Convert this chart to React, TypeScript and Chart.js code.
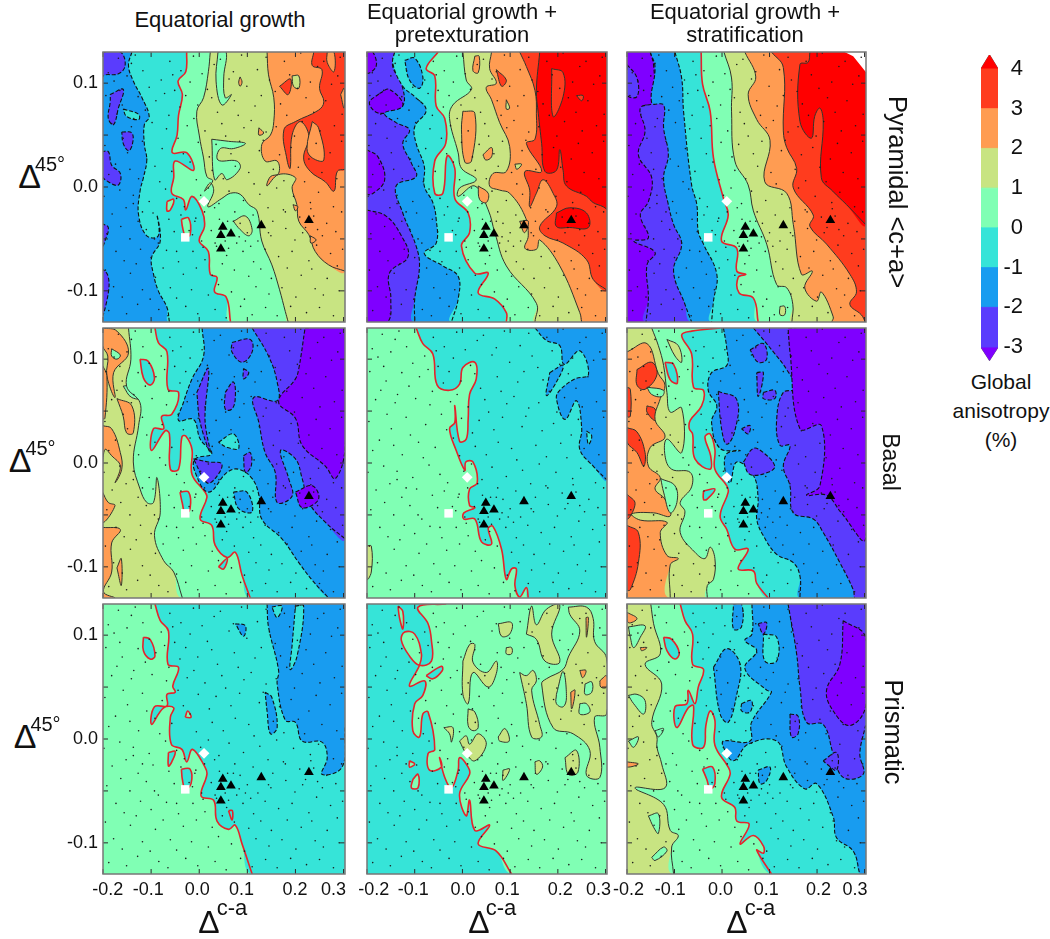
import React, { useEffect, useRef } from "react";
import { Chart, registerables } from "chart.js";
Chart.register(...registerables);

// All contour arrays: flat x,y pairs, in thousandths of the axis units
const X_RANGE = [-0.2, 0.303];
const Y_RANGE = [-0.13, 0.13];
const X_TICKS = [-0.2, -0.1, 0, 0.1, 0.2, 0.3];
const Y_TICKS = [-0.1, -0.05, 0, 0.05, 0.1];
const Y_LABELS = [-0.1, 0, 0.1];
const X_LABELS = ["-0.2", "-0.1", "0.0", "0.1", "0.2", "0.3"];
const X_LABEL_AT = [
  [-0.19, -0.106, -0.004, 0.088, 0.199, 0.279],
  [-0.186, -0.103, 0.001, 0.094, 0.205, 0.285],
  [-0.197, -0.109, -0.003, 0.093, 0.203, 0.28],
];
const BAR_LEVELS = [-3, -2, -1, 0, 1, 2, 3, 4];
const TITLES = [["Equatorial growth"], ["Equatorial growth +", "pretexturation"], ["Equatorial growth +", "stratification"]];
const ROW_NAMES = ["Pyramidal <c+a>", "Basal", "Prismatic"];
const BAR_NAME = ["Global", "anisotropy", "(%)"];
const BANDS = ["#7f00ff", "#5a3cfd", "#189cf0", "#36e4d8", "#80ffb4", "#c8e482", "#ff9c52", "#ff3c1e", "#ff0000"];

const TRI_X = [0.049, 0.045, 0.066, 0.045, 0.129, 0.228];
const TRI_Y = [-0.0385, -0.0465, -0.045, -0.0595, -0.037, -0.032];
const DIAMOND = [0.01, -0.0138];
const SQUARE = [-0.029, -0.0485];

const DOTS = [
  -168,124,-141,119,-133,127,-61,121,-38,112,-12,126,31,118,44,123,88,127,121,113,139,125,177,121,211,129,246,116,259,121,293,125,
  -189,110,-177,102,-150,107,-117,112,-104,96,-79,103,-55,108,-51,93,-19,101,6,109,17,94,62,104,71,111,99,97,146,103,158,92,188,108,204,95,231,101,275,99,288,107,
  -194,88,-165,93,-160,79,-127,87,-112,74,-90,83,-72,90,-40,77,-28,88,-3,79,26,86,38,72,73,83,81,69,116,78,129,88,169,80,182,69,222,86,238,72,263,83,297,70,
  -182,61,-171,70,-141,58,-136,66,-98,62,-68,56,-63,69,-25,59,-11,66,12,54,47,61,55,49,93,57,108,64,139,53,160,58,198,49,214,63,251,54,281,59,
  -196,40,-158,47,-149,33,-118,44,-109,27,-77,37,-44,47,-33,32,-2,43,21,29,35,41,66,32,84,44,125,35,133,45,167,31,191,38,228,27,243,42,272,33,296,44,
  -174,22,-188,12,-144,17,-126,8,-92,20,-82,5,-57,15,-19,24,-6,7,27,16,50,8,75,20,103,14,114,3,154,17,176,6,206,19,219,5,255,14,286,8,
  -165,-3,-198,-9,-137,-8,-104,-14,-70,-2,-47,-11,-31,-19,3,-8,19,-1,41,-16,62,-4,92,-13,126,-7,143,-20,161,-1,196,-9,231,-15,248,-5,279,-19,
  -181,-26,-152,-20,-127,-33,-96,-25,-63,-31,-38,-27,-9,-33,11,-24,32,-20,74,-24,85,-35,112,-27,153,-33,175,-22,209,-29,238,-28,265,-35,296,-24,
  -192,-45,-163,-38,-144,-50,-110,-41,-85,-54,-52,-43,-21,-42,5,-52,25,-42,59,-33,78,-54,100,-44,122,-52,144,-44,180,-40,199,-51,221,-39,256,-47,284,-43,
  -173,-62,-156,-71,-122,-60,-100,-68,-68,-61,-43,-72,-13,-62,12,-70,36,-57,57,-66,91,-62,113,-72,137,-60,165,-67,193,-62,228,-71,244,-56,273,-64,298,-60,
  -195,-80,-143,-83,-131,-74,-91,-87,-75,-78,-33,-84,-6,-78,27,-85,48,-74,73,-80,103,-86,128,-79,150,-88,183,-78,212,-85,234,-79,266,-88,287,-76,
  -178,-96,-160,-106,-118,-99,-102,-108,-60,-97,-47,-107,-16,-99,19,-104,40,-94,67,-101,94,-108,118,-96,145,-103,172,-97,201,-106,241,-98,258,-104,291,-100,
  -188,-119,-151,-122,-128,-113,-84,-118,-65,-124,-28,-115,-3,-122,33,-118,56,-126,86,-115,110,-123,138,-116,162,-124,190,-115,223,-121,250,-116,279,-124,
  42,-31,54,-52,71,-33,61,-59,33,-54,83,-48,-7,-30,-14,-46,8,-58,149,-47,179,-24,232,-21,246,-41,215,-44,96,-52,107,-57,-47,-62,-93,-50,-137,-16,-118,-24,
];

// Panel: row 1, column 1
const A_P1 = [-203,130,-164,130,-154,117,-168,109,-196,108,-203,106];
const A_P2 = [-185,89,-158,94,-168,76,-178,60,-189,66,-185,82];
const A_P3 = [-161,53,-140,52,-139,41,-147,35,-158,42];
const A_P4 = [-203,34,-189,34,-182,21,-164,13,-168,2,-189,5,-203,12];
const A_P5 = [-203,-35,-189,-39,-196,-52,-203,-59];
const A_P6 = [-203,-78,-190,-85,-189,-102,-203,-125];
const A_C1 = [-116,118,-102,116,-88,103,-98,104];
const A_C2 = [-158,75,-126,70,-126,65,-151,68];
const A_M1 = [-140,130,-147,117,-137,102,-119,86,-104,68,-114,60,-114,41,-109,26,-116,9,-123,-4,-126,-27,-109,-47,-85,-47,-88,-27,-81,-52,-99,-68,-95,-84,-85,-100,-67,-116,-62,-130];
const A_0 = [-26,130,-28,111,-44,102,-35,89,-43,69,-46,50,-56,33,-26,33,-12,16,-50,25,-53,9,-57,-6,-33,-12,-28,-22,-15,-9,6,-23,11,-38,0,-52,19,-62,23,-84,37,-87,32,-101,56,-106,65,-130];
const A_R1 = [-67,-14,-53,-12,-60,-22,-67,-23];
const A_R2 = [-37,-31,-22,-30,-19,-46,-29,-47,-35,-38];
const A_1 = [23,130,19,111,9,86,-5,73,0,50,9,28,16,10,28,6,11,-4,23,4,30,-4,18,-19,47,-11,65,-6,85,-7,103,-17,120,-23,130,-52,151,-75,167,-99,179,-120,185,-130];
const A_G1 = [39,130,35,102,47,79,67,89,54,86,51,106,56,130];
const A_G2 = [26,46,61,44,96,42,71,37,44,37,39,26,78,25,85,18,58,7,47,13,32,7];
const A_Y1 = [71,-33,96,-28,110,-41,103,-47,85,-41];
const A_2 = [141,130,144,108,155,86,155,63,148,50,130,41,137,25,162,25,165,13,148,10,141,1,165,12,200,9,193,-1,203,-17,207,-33,228,-46,241,-62,269,-75,303,-81];
const A_O1 = [124,57,134,52,124,50];
const A_O2 = [85,106,89,101,85,97,82,101];
const A_O3 = [195,-17,205,-19,200,-23];
const A_O4 = [231,-47,243,-51,232,-54];
const A_3 = [238,130,235,117,255,113,250,95,259,82,248,74,200,63,176,55,183,25,189,18,193,50,210,63,228,49,217,28,231,15,262,5,280,-4,287,15,303,17];
const A_H1 = [235,63,248,57,259,26,235,28,224,37];
const A_H2 = [266,130,280,130,280,111,266,120];
const A_T1 = [167,97,190,104,185,89];
const A_Y2 = [193,107,207,107,207,95,196,97];
const A_S1 = [294,89,301,95,301,76];

// Panel: row 1, column 2
const B_D1 = [-201,130,-188,130,-181,116,-201,110];
const B_D2 = [-201,36,-177,29,-163,7,-187,-6,-201,-6];
const B_D3 = [-201,-22,-160,-28,-128,-47,-114,-67,-153,-83,-150,-108,-157,-130,-201,-130];
const B_D4 = [-174,90,-153,94,-125,78,-174,71,-195,81];
const B_M2 = [-142,130,-146,116,-128,100,-125,78,-163,71,-139,62,-111,55,-125,42,-107,23,-97,10,-139,1,-125,-25,-97,-57,-90,-76,-100,-108,-100,-130];
const B_M1 = [-142,130,-146,119,-125,97,-100,87,-76,74,-100,58,-97,42,-80,20,-80,1,-62,-15,-55,-31,-55,-54,-80,-64,-41,-76,-9,-86,-9,-108,-23,-130];
const B_B1 = [-121,122,-100,124,-83,106,-90,95,-111,103];
const B_0 = [-51,130,-76,114,-58,107,-55,78,-37,66,-35,42,-58,25,-58,-6,-41,-6,-32,30,-16,18,-16,-11,12,-25,15,-44,-2,-57,26,-83,54,-83,33,-102,68,-108,92,-121,92,-130];
const B_1 = [1,130,8,103,19,94,-20,79,-27,66,-9,33,-2,18,29,7,-6,-1,-9,-9,26,1,54,-22,68,-44,92,-76,155,-112,152,-130];
const B_O1 = [1,73,26,71,19,25,5,24,-2,55];
const B_O2 = [43,31,61,38,61,29,49,26];
const B_O3 = [26,126,35,126,33,110,22,112];
const B_O4 = [33,1,54,-6,50,-15,36,-12];
const B_2 = [61,130,57,114,71,100,50,96,61,84,78,62,99,39,92,15,64,13,57,1,78,-3,99,-6,131,-28,138,-47,131,-59,155,-60,162,-51,204,-76,246,-121,250,-130];
const B_Y1 = [92,84,99,76,92,75];
const B_Y2 = [110,22,124,22,114,17];
const B_O5 = [120,-33,138,-33,130,-44];
const B_R1 = [71,113,92,103,82,97];
const B_3 = [120,130,134,116,152,93,155,71,152,46,134,42,166,15,131,15,141,-3,141,-19,155,-6,169,7,190,-6,197,-19,162,-38,173,-47,211,-54,260,-70,274,-89,302,-99];
const B_4 = [162,130,155,93,159,71,166,42,173,15,197,16,204,36,211,16,218,1,260,-9,274,-15,295,-19,304,-22];
const B_R2 = [197,-25,225,-20,260,-25,264,-39,225,-39,197,-38];
const B_I1 = [187,114,211,110,211,87,190,68];
const B_I2 = [239,88,253,88,250,83];

// Panel: row 1, column 3
const C_M3 = [-151,130,-144,117,-144,82,-172,76,-162,54,-176,31,-148,9,-155,-14,-172,-27,-155,-49,-186,-52,-141,-63,-158,-75,-155,-107,-160,-130];
const C_P1 = [-200,118,-179,105,-179,87,-200,89];
const C_M2 = [-151,130,-141,115,-148,81,-123,79,-123,57,-113,31,-123,9,-113,-17,-102,-36,-85,-55,-102,-81,-78,-113,-64,-130];
const C_M1 = [-99,130,-85,105,-81,73,-64,2,-53,-17,-50,-43,-39,-55,-11,-84,-18,-110,-22,-130];
const C_0 = [-44,130,-41,99,-25,73,-18,28,3,-11,13,-27,-1,-52,31,-59,31,-81,50,-84,34,-87,36,-102,66,-107,76,-130];
const C_1 = [4,130,20,105,20,73,27,25,55,2,66,-23,94,-55,115,-94,136,-97,149,-113,147,-130];
const C_Y1 = [122,-115,132,-115,132,-123,122,-123];
const C_2 = [48,130,71,106,55,89,73,65,101,45,90,5,136,-6,150,-36,167,-84,190,-81,174,-97,199,-110,209,-101,234,-125,231,-130];
const C_3 = [104,130,129,115,129,54,136,38,157,18,150,-1,192,-27,185,-38,220,-55,269,-84,283,-101,269,-113,293,-123,302,-130];
const C_4 = [185,130,181,120,164,118,164,63,188,47,195,68,206,76,213,63,209,9,233,-4,262,-17,302,-36];
const C_W = [258,130,304,130,304,110,290,118,276,126];

// Panel: row 2, column 1
const D_1 = [-147,130,-142,100,-151,74,-123,58,-126,36,-137,1,-123,-25,-109,-38,-95,-38,-88,-14,-81,-48,-93,-70,-74,-94,-53,-105,-35,-130];
const D_O1 = [-201,130,-171,127,-147,106,-178,87,-175,63,-192,84,-190,103,-201,113];
const D_O2 = [-201,94,-192,84,-196,43,-201,43];
const D_O3 = [-171,62,-140,55,-137,29,-151,29,-158,45];
const D_O4 = [-201,36,-182,33,-164,10,-161,-6,-175,-19,-164,-3,-182,7,-196,13,-201,-3];
const D_O5 = [-201,-28,-189,-38,-175,-41,-201,-57];
const D_O6 = [-201,-62,-164,-64,-182,-77,-182,-105,-199,-124,-175,-130,-201,-130];
const D_O7 = [-171,-101,-162,-92,-162,-118];
const D_G1 = [-182,110,-164,104,-171,100,-182,103];
const D_G2 = [-158,74,-133,75,-112,63,-140,63];
const D_0 = [-92,130,-85,116,-67,107,-65,71,-43,68,-57,47,-78,45,-74,33,-95,33,-99,12,-71,31,-62,28,-60,-6,-43,-6,-36,25,-28,26,-15,13,-15,-11,12,-28,16,-33,2,-54,26,-60,33,-79,58,-91,75,-86,89,-108,106,-130];
const D_R1 = [-123,100,-106,98,-93,82,-102,75,-116,82];
const D_R2 = [-40,-28,-22,-28,-19,-44,-29,-49,-35,-39];
const D_R3 = [40,-100,58,-92,51,-102];
const D_M1 = [6,130,9,103,-15,81,-33,58,-43,41,-12,42,2,23,26,9,-8,4,-10,-7,19,-28,58,-9,82,-6,110,-15,124,-31,130,-54,172,-73,207,-96,235,-113,269,-130];
const D_C1 = [40,20,71,28,82,14,58,15];
const D_B1 = [71,-28,99,-28,110,-47,82,-44];
const D_M2 = [110,130,144,103,162,78,162,60,113,63,124,39,137,10,158,-9,162,-38,193,-32,186,-15,169,12,200,4,214,-15,228,-38,262,-57,303,-73];
const D_P1 = [68,116,106,119,110,107,89,97,68,107];
const D_P2 = [-5,68,19,91,12,42,23,10,2,39];
const D_P3 = [54,68,71,78,75,63,68,52,54,52];
const D_P4 = [92,91,103,87,92,81];
const D_P5 = [-12,4,19,1,47,-1,33,-15,16,-19];
const D_P6 = [92,7,106,10,108,-3,96,-9];
const D_K1 = [220,130,303,130,303,14,283,-15,262,-3,214,17,200,43,165,59,200,81,207,91];
const D_K2 = [200,-28,235,-22,248,-35,214,-43];

// Panel: row 2, column 2
const E_Y = [-201,-80,-191,-80,-191,-105,-200,-112];
const E_0 = [-97,130,-83,115,-62,105,-53,75,-27,70,-6,76,1,92,26,97,29,81,15,66,12,42,8,23,-6,21,-16,55,-16,39,-27,33,-13,12,5,-7,7,1,22,1,31,-19,15,-25,15,-41,26,-43,3,-48,3,-54,26,-54,40,-76,61,-78,54,-63,64,-61,82,-83,92,-112,103,-102,113,-102,110,-118,120,-129,134,-120,138,-130];
const E_M1 = [152,130,176,118,204,113,213,95,246,108,264,85,236,81,204,70,197,62,215,42,239,60,250,33,246,13,274,-3,302,-16];
const E_B1 = [183,87,211,94,197,78,176,65];
const E_C1 = [260,31,271,26,264,18];

// Panel: row 2, column 3
const F_R1 = [-190,130,-172,125,-179,115,-190,116];
const F_R2 = [-179,90,-148,97,-137,85,-162,71,-179,75];
const F_R3 = [-158,55,-141,52,-141,41,-158,49];
const F_R4 = [-200,34,-179,30,-162,10,-165,-3,-179,10,-200,20];
const F_R5 = [-200,73,-193,71,-193,45,-200,45];
const F_R6 = [-200,-30,-183,-39,-200,-54];
const F_R7 = [-200,-60,-176,-67,-176,-96,-193,-122,-200,-122];
const F_2 = [-200,107,-158,115,-134,86,-120,75,-130,62,-141,42,-120,25,-151,15,-155,-3,-130,-14,-141,-25,-120,-35,-109,-51,-144,-48,-190,-49,-172,-55,-116,-57,-130,-67,-116,-89,-92,-92,-109,-98,-109,-130];
const F_1 = [-148,130,-134,113,-123,94,-116,68,-109,49,-85,53,-85,10,-116,23,-120,7,-106,-6,-67,-9,-64,-23,-88,-38,-78,-47,-88,-67,-57,-86,-36,-92,-25,-81,-15,-92,-18,-112,-31,-118,-31,-130];
const F_Y1 = [-116,119,-92,113,-85,97,-99,103];
const F_G1 = [-158,73,-123,70,-127,64,-148,66];
const F_G2 = [-129,-15,-99,-22,-95,-38,-109,-48,-123,-28];
const F_0 = [-4,130,-64,127,-85,123,-64,105,-60,73,-39,70,-43,55,-67,41,-69,33,-62,28,-57,4,-25,-6,-24,7,-36,25,-25,28,-15,13,-15,-6,10,-22,13,-28,-4,-51,10,-64,27,-83,55,-83,34,-102,66,-104,73,-116,97,-130];
const F_C1 = [-120,97,-102,95,-94,77,-109,80];
const F_C2 = [-39,-27,-15,-25,-32,-35,-39,-35];
const F_M1 = [3,130,10,110,10,94,-22,87,-29,70,-11,55,-22,39,-4,14,38,12,10,9,6,-6,17,-19,31,1,66,-12,76,-35,73,-54,87,-70,115,-88,150,-96,164,-109,164,-130];
const F_M2 = [66,130,108,107,136,90,157,71,129,68,115,42,122,17,143,17,129,-3,143,-22,150,-48,192,-54,213,-67,248,-96,276,-122,279,-130];
const F_P1 = [-8,69,31,61,27,31,10,18,-1,33];
const F_P2 = [59,109,87,115,94,100,76,97];
const F_P3 = [41,33,59,36,55,28];
const F_P4 = [45,1,66,14,87,10,111,-3,97,-9,59,-11];
const F_P5 = [73,87,87,87,76,64];
const F_P6 = [87,68,111,70,111,62,87,62];
const F_K1 = [139,130,302,130,302,-73,251,-48,220,-31,178,-31,206,-22,209,36,164,33,143,107];

// Panel: row 3, column 1
const G_0 = [-92,130,-81,114,-64,104,-65,72,-43,69,-55,51,-50,45,-67,43,-67,32,-93,31,-99,14,-74,30,-53,30,-60,21,-58,-5,-36,-10,-26,-22,-14,-10,12,-27,16,-34,4,-55,30,-59,37,-79,61,-87,75,-83,89,-101,110,-130];
const G_R1 = [-116,98,-102,96,-92,80,-102,77,-116,85];
const G_R2 = [-64,-13,-50,-12,-57,-22,-64,-26];
const G_R3 = [-37,-29,-19,-29,-17,-43,-29,-48,-35,-39];
const G_R4 = [-29,21,-24,27,-17,21];
const G_R5 = [61,-69,69,-69,68,-78];
const G_M1 = [141,130,144,108,165,66,162,53,179,18,200,16,214,-2,255,-3,266,-18,255,-34,297,-27,303,11];
const G_B1 = [137,45,151,40,162,11,148,5,141,27];
const G_B2 = [75,111,96,109,92,99];
const G_C1 = [200,128,217,128,203,79,189,67,193,90];
const G_C2 = [151,127,172,128,162,117];

// Panel: row 3, column 2
const H_0 = [-34,130,-93,127,-72,111,-65,95,-65,75,-90,71,-111,80,-128,95,-121,103,-100,101,-86,82,-90,71,-111,51,-79,56,-83,42,-100,34,-104,8,-90,2,-83,24,-72,26,-58,-10,-72,-14,-69,-30,-44,-27,-48,-18,-37,-37,-23,-47,-9,-30,-6,-18,12,-27,15,-34,-6,-53,8,-74,15,-59,26,-88,57,-83,33,-101,71,-108,103,-130];
const H_Y1 = [134,101,145,128,155,110,176,125,204,129,187,101,204,74,173,75,155,96];
const H_Y2 = [222,127,260,127,274,116,277,94,302,78,302,24,277,21,288,-8,288,-37,260,-35,267,-11,232,5,190,11,166,53,176,58,211,67,222,79,246,104,225,120];
const H_G1 = [197,43,211,65,218,40,211,31,197,34];
const H_G2 = [257,53,271,55,271,45,257,43];
const H_G3 = [246,34,260,34,267,26,246,24];
const H_O1 = [259,117,264,117,260,98];
const H_O2 = [227,45,236,47,229,29];
const H_O3 = [288,56,302,61,302,50,290,50];
const H_O4 = [246,66,259,66,252,59];
const H_Y3 = [120,64,134,61,148,66,155,56,145,47,162,14,166,2,145,2,134,34];
const H_Y4 = [1,75,15,91,26,91,22,74,50,64,71,75,71,63,54,50,22,64,12,34,1,43];
const H_Y5 = [75,111,103,112,99,101,82,99];
const H_Y6 = [92,88,103,88,103,82,92,82];
const H_Y7 = [12,29,26,26,33,11,22,8,12,13];
const H_Y8 = [-39,11,-20,11,-23,-3,-27,5];
const H_Y9 = [-6,-2,8,3,15,-5,33,5,50,-5,26,-21,8,-14];
const H_Y10 = [75,2,89,10,98,-2,78,-2];
const H_Y11 = [85,-30,99,-29,85,-40];
const H_Y12 = [215,-18,239,-11,242,-32,222,-34];
const H_Y13 = [152,-22,162,-21,168,-27,155,-34];
const H_R1 = [-135,128,-125,123,-125,106,-132,117];
const H_R2 = [-111,-21,-100,-24,-111,-27];
const H_R3 = [-104,-39,-93,-34,-93,-47,-107,-47];
const H_R4 = [-76,61,-44,70,-42,66,-62,58];

// Panel: row 3, column 3
const I_1 = [-150,130,-144,111,-130,82,-162,72,-127,53,-148,16,-137,2,-137,-8,-127,-24,-120,-47,-183,-47,-123,-63,-109,-88,-92,-93,-106,-104,-102,-130];
const I_G1 = [-197,108,-162,109,-172,98,-186,88,-193,98];
const I_G2 = [-197,42,-179,43,-162,37,-165,24,-186,34];
const I_G3 = [-155,-74,-134,-72,-134,-91,-144,-85];
const I_G4 = [-148,-114,-123,-104,-116,-108,-141,-117];
const I_G5 = [-197,-2,-176,2,-186,-8];
const I_G6 = [-141,8,-123,10,-134,2];
const I_O1 = [-200,122,-179,116,-197,112];
const I_O2 = [-200,-22,-176,-24,-200,-27];
const I_O3 = [-172,88,-158,88,-169,85];
const I_0 = [-88,130,-78,114,-62,101,-62,72,-39,67,-50,50,-57,34,-71,47,-74,34,-99,31,-95,11,-71,30,-60,32,-62,-5,-39,-8,-34,13,-25,27,-15,18,-15,-6,13,-27,17,-34,-1,-56,27,-66,31,-79,57,-82,38,-101,66,-93,87,-103,87,-110,73,-107,104,-130];
const I_R1 = [-123,98,-106,96,-90,83,-99,77,-116,85];
const I_R2 = [-41,-29,-20,-27,-15,-43,-25,-48,-32,-39];
const I_M1 = [63,130,63,101,48,95,73,85,48,68,94,47,104,45,62,16,59,-2,3,-2,3,-8,24,-21,55,-5,115,-2,136,-27,174,-48,199,-43,234,-75,241,-95,276,-108,290,-130];
const I_C1 = [87,101,115,98,115,75,90,75];
const I_C2 = [143,130,167,127,150,104];
const I_B1 = [-18,69,10,87,38,72,31,43,13,16,-4,24];
const I_B2 = [24,130,41,130,41,108,24,106];
const I_B3 = [41,34,62,37,59,26,41,27];
const I_B4 = [76,-30,101,-27,94,-40,80,-43];
const I_M2 = [139,130,157,82,164,50,178,16,213,14,234,-14,255,-37,297,-34,290,-14,302,13];
const I_P1 = [76,111,94,112,87,101];
const I_P2 = [143,24,160,22,160,5,146,2];
const I_P3 = [213,-21,241,-13,241,-30,220,-24];
const I_K1 = [255,114,302,98,302,31,269,13,234,27,220,47,248,72];

const RIGHT = [305, -131, 305, 131];
const TOP_RIGHT = [305, 131];
const RIGHT_TOP_LEFT = [305, -131, 305, 131, -201, 131];

type Layer = { d: number[]; close?: number[]; band: number; level: number | null };
const L = (d: number[], band: number, level: number | null, close?: number[]): Layer => ({ d, band, level, close });
const FULL = [-201, 131, 305, 131, 305, -131, -201, -131];

const PANELS: Layer[][][] = [
  [
    [
      L(FULL, 2, null), L(A_P1, 1, -2), L(A_P2, 1, -2), L(A_P3, 1, -2), L(A_P4, 1, -2), L(A_P5, 1, -2), L(A_P6, 1, -2), L(A_C1, 3, -1), L(A_C2, 3, -1),
      L(A_M1, 3, -1, RIGHT), L(A_0, 4, 0, RIGHT), L(A_R1, 4, 0), L(A_R2, 4, 0), L(A_1, 5, 1, RIGHT), L(A_G1, 4, 1), L(A_G2, 4, 1), L(A_Y1, 5, 1),
      L(A_2, 6, 2, TOP_RIGHT), L(A_O1, 6, 2), L(A_O2, 6, 2), L(A_O3, 6, 2), L(A_O4, 6, 2), L(A_3, 7, 3, TOP_RIGHT), L(A_H1, 6, 3), L(A_H2, 6, 3), L(A_T1, 7, 3), L(A_Y2, 5, 2), L(A_S1, 6, 3),
    ],
    [
      L(FULL, 1, null), L(B_D1, 0, -3), L(B_D2, 0, -3), L(B_D3, 0, -3), L(B_D4, 0, -3), L(B_M2, 2, -2, RIGHT), L(B_M1, 3, -1, RIGHT), L(B_B1, 2, -1),
      L(B_0, 4, 0, RIGHT), L(B_1, 5, 1, RIGHT), L(B_O1, 6, 2), L(B_O2, 6, 2), L(B_O3, 6, 2), L(B_O4, 6, 2), L(B_2, 6, 2, RIGHT), L(B_Y1, 5, 2), L(B_Y2, 5, 2), L(B_O5, 6, 2), L(B_R1, 7, 3),
      L(B_3, 7, 3, TOP_RIGHT), L(B_4, 8, 4, TOP_RIGHT), L(B_R2, 8, 4), L(B_I1, 7, 4), L(B_I2, 7, 4),
    ],
    [
      L(FULL, 0, null), L(C_M3, 1, -3, RIGHT), L(C_P1, 1, -3), L(C_M2, 2, -2, RIGHT), L(C_M1, 3, -1, RIGHT), L(C_0, 4, 0, RIGHT), L(C_1, 5, 1, RIGHT), L(C_Y1, 5, 1),
      L(C_2, 6, 2, RIGHT), L(C_3, 7, 3, TOP_RIGHT), L(C_4, 8, 4, TOP_RIGHT), L(C_W, 9, null),
    ],
  ],
  [
    [
      L(FULL, 5, null), L(D_O1, 6, 2), L(D_O2, 6, 2), L(D_O3, 6, 2), L(D_O4, 6, 2), L(D_O5, 6, 2), L(D_O6, 6, 2), L(D_O7, 6, 2), L(D_G1, 4, 1), L(D_G2, 4, 1),
      L(D_1, 4, 1, RIGHT), L(D_0, 3, 0, RIGHT), L(D_R1, 3, 0), L(D_R2, 3, 0), L(D_R3, 3, 0), L(D_M1, 2, -1, RIGHT), L(D_C1, 3, -1), L(D_B1, 2, -1),
      L(D_M2, 1, -2, TOP_RIGHT), L(D_P1, 1, -2), L(D_P2, 1, -2), L(D_P3, 1, -2), L(D_P4, 1, -2), L(D_P5, 1, -2), L(D_P6, 1, -2), L(D_K1, 0, -3), L(D_K2, 0, -3),
    ],
    [L(FULL, 4, null), L(E_Y, 5, 1), L(E_0, 3, 0, RIGHT), L(E_M1, 2, -1, TOP_RIGHT), L(E_B1, 2, -1), L(E_C1, 3, -1)],
    [
      L(FULL, 6, null), L(F_R1, 7, 3), L(F_R2, 7, 3), L(F_R3, 7, 3), L(F_R4, 7, 3), L(F_R5, 7, 3), L(F_R6, 7, 3), L(F_R7, 7, 3),
      L(F_2, 5, 2, RIGHT_TOP_LEFT), L(F_1, 4, 1, RIGHT), L(F_Y1, 5, 1), L(F_G1, 4, 1), L(F_G2, 4, 1), L(F_0, 3, 0, RIGHT), L(F_C1, 3, 0), L(F_C2, 3, 0),
      L(F_M1, 2, -1, RIGHT), L(F_M2, 1, -2, RIGHT), L(F_P1, 1, -2), L(F_P2, 1, -2), L(F_P3, 1, -2), L(F_P4, 1, -2), L(F_P5, 1, -2), L(F_P6, 1, -2), L(F_K1, 0, -3),
    ],
  ],
  [
    [
      L(FULL, 4, null), L(G_0, 3, 0, RIGHT), L(G_R1, 3, 0), L(G_R2, 3, 0), L(G_R3, 3, 0), L(G_R4, 4, 0), L(G_R5, 3, 0),
      L(G_M1, 2, -1, TOP_RIGHT), L(G_B1, 2, -1), L(G_B2, 2, -1), L(G_C1, 3, -1), L(G_C2, 3, -1),
    ],
    [
      L(FULL, 3, null), L(H_0, 4, 0, RIGHT), L(H_R1, 4, 0), L(H_R2, 4, 0), L(H_R3, 4, 0), L(H_R4, 3, 0), L(H_Y1, 5, 1), L(H_Y2, 5, 1), L(H_G1, 4, 1), L(H_G2, 4, 1), L(H_G3, 4, 1),
      L(H_O1, 6, 2), L(H_O2, 6, 2), L(H_O3, 6, 2), L(H_O4, 6, 2), L(H_Y3, 5, 1), L(H_Y4, 5, 1), L(H_Y5, 5, 1), L(H_Y6, 5, 1), L(H_Y7, 5, 1), L(H_Y8, 5, 1), L(H_Y9, 5, 1), L(H_Y10, 5, 1), L(H_Y11, 5, 1), L(H_Y12, 5, 1), L(H_Y13, 5, 1),
    ],
    [
      L(FULL, 5, null), L(I_O1, 6, 2), L(I_O2, 6, 2), L(I_O3, 6, 2), L(I_1, 4, 1, RIGHT), L(I_G1, 4, 1), L(I_G2, 4, 1), L(I_G3, 4, 1), L(I_G4, 4, 1), L(I_G5, 4, 1), L(I_G6, 4, 1),
      L(I_0, 3, 0, RIGHT), L(I_R1, 3, 0), L(I_R2, 3, 0), L(I_M1, 2, -1, RIGHT), L(I_C1, 3, -1), L(I_C2, 3, -1), L(I_B1, 2, -1), L(I_B2, 2, -1), L(I_B3, 2, -1), L(I_B4, 2, -1),
      L(I_M2, 1, -2, TOP_RIGHT), L(I_P1, 1, -2), L(I_P2, 1, -2), L(I_P3, 1, -2), L(I_K1, 0, -3),
    ],
  ],
];

const COL_BOX = [[102.5, 344.5], [366.7, 606.7], [626.7, 866]];
const ROW_BOX = [[52.3, 322.3], [327.7, 597.7], [603.7, 873.7]];
const FONT = "'Liberation Sans', Arial, sans-serif";
const PAD = { left: 50, right: 16, top: 12, bottom: 34 };

const toPts = (a: number[]) => {
  const o: { x: number; y: number }[] = [];
  for (let i = 0; i + 1 < a.length; i += 2) o.push({ x: a[i] / 1000, y: a[i + 1] / 1000 });
  return o;
};

const framePlugin = {
  id: "frame",
  afterDraw(chart: any) {
    const { ctx, chartArea: a, scales } = chart;
    ctx.save();
    ctx.strokeStyle = "#2a2a2a";
    ctx.lineWidth = 1;
    ctx.beginPath();
    for (const v of X_TICKS) {
      const p = scales.x.getPixelForValue(v);
      ctx.moveTo(p, a.top);
      ctx.lineTo(p, a.top + 5);
      ctx.moveTo(p, a.bottom);
      ctx.lineTo(p, a.bottom - 5);
    }
    for (const v of Y_TICKS) {
      const p = scales.y.getPixelForValue(v);
      ctx.moveTo(a.left, p);
      ctx.lineTo(a.left + 5, p);
      ctx.moveTo(a.right, p);
      ctx.lineTo(a.right - 5, p);
    }
    ctx.stroke();
    ctx.strokeStyle = "#777";
    ctx.lineWidth = 1.5;
    ctx.strokeRect(a.left, a.top, a.right - a.left, a.bottom - a.top);
    ctx.restore();
  },
};

function edgeStyle(level: number) {
  if (level === 0) return { borderColor: "#e6232b", borderWidth: 1.6, borderDash: [] as number[] };
  if (level < 0) return { borderColor: "#111", borderWidth: 1.1, borderDash: [4, 2] };
  return { borderColor: "#33352c", borderWidth: 1, borderDash: [] as number[] };
}

function buildDatasets(layers: Layer[]) {
  const sets: any[] = [];
  for (const l of layers) {
    const line = toPts(l.d);
    const looped = l.close ? line : line.concat(line.slice(0, 1));
    const closed = l.close ? line.concat(toPts(l.close)) : looped;
    const tension = l.level === null ? 0 : 0.4;
    sets.push({
      data: closed, showLine: true, fill: "shape", pointRadius: 0, borderWidth: 0, tension, capBezierPoints: false,
      backgroundColor: l.band === 9 ? "#ffffff" : BANDS[l.band], borderColor: "transparent",
    });
    if (l.level !== null) {
      sets.push({ data: looped, showLine: true, fill: false, pointRadius: 0, tension, capBezierPoints: false, ...edgeStyle(l.level) });
    }
  }
  sets.push({ data: toPts(DOTS), showLine: false, pointRadius: 0.8, pointBorderWidth: 0, pointBackgroundColor: "#1c1c1c" });
  sets.push({
    data: [{ x: SQUARE[0], y: SQUARE[1] }], showLine: false, pointStyle: "rect", pointRadius: 6, pointBorderWidth: 0, pointBackgroundColor: "#fff",
  });
  sets.push({
    data: [{ x: DIAMOND[0], y: DIAMOND[1] }], showLine: false, pointStyle: "rectRot", pointRadius: 5.4, pointBorderWidth: 0, pointBackgroundColor: "#fff",
  });
  sets.push({
    data: TRI_X.map((x, i) => ({ x, y: TRI_Y[i] })), showLine: false, pointStyle: "triangle", pointRadius: 5.6, pointBorderWidth: 0, pointBackgroundColor: "#000",
  });
  const n = sets.length;
  sets.forEach((s, i) => { s.order = n - i; });
  return sets;
}

function Panel({ row, col }: { row: number; col: number }) {
  const ref = useRef<HTMLCanvasElement | null>(null);
  const [x0, x1] = COL_BOX[col];
  const [y0, y1] = ROW_BOX[row];
  const w = x1 - x0 + PAD.left + PAD.right;
  const h = y1 - y0 + PAD.top + PAD.bottom;
  useEffect(() => {
    const showY = col === 0;
    const showX = row === 2;
    const chart = new Chart(ref.current as HTMLCanvasElement, {
      type: "scatter",
      data: { datasets: buildDatasets(PANELS[row][col]) },
      plugins: [framePlugin],
      options: {
        animation: false,
        responsive: false,
        layout: { padding: { left: showY ? 0 : PAD.left, right: PAD.right, top: PAD.top, bottom: showX ? 0 : PAD.bottom } },
        plugins: { legend: { display: false }, tooltip: { enabled: false } },
        scales: {
          x: { type: "linear", display: false, min: X_RANGE[0], max: X_RANGE[1] },
          xl: {
            type: "linear", display: showX, position: "bottom", min: X_RANGE[0], max: X_RANGE[1],
            grid: { display: false, drawTicks: false }, border: { display: false },
            afterBuildTicks: (s: any) => { s.ticks = X_LABEL_AT[col].map((value) => ({ value })); },
            afterFit: (s: any) => {
              s.height = showX ? PAD.bottom : 0;
              s.paddingLeft = 0; s.paddingRight = 0; s.paddingTop = 0; s.paddingBottom = 0;
            },
            ticks: {
              autoSkip: false, maxRotation: 0, minRotation: 0, padding: 5, color: "#111",
              font: { family: FONT, size: 18 },
              callback: (_v: any, i: number) => X_LABELS[i],
            },
          },
          y: {
            type: "linear", display: showY, position: "left", min: Y_RANGE[0], max: Y_RANGE[1],
            grid: { display: false, drawTicks: false }, border: { display: false },
            afterBuildTicks: (s: any) => { s.ticks = Y_LABELS.map((value) => ({ value })); },
            afterFit: (s: any) => {
              s.width = showY ? PAD.left : 0;
              s.paddingLeft = 0; s.paddingRight = 0; s.paddingTop = 0; s.paddingBottom = 0;
            },
            ticks: {
              autoSkip: false, padding: 5, color: "#111",
              font: { family: FONT, size: 18 },
              callback: (v: any) => Number(v).toFixed(1),
            },
          },
        },
      },
    } as any);
    return () => chart.destroy();
  }, [row, col]);
  return (
    <canvas
      ref={ref}
      width={Math.round(w)}
      height={Math.round(h)}
      style={{ position: "absolute", left: x0 - PAD.left, top: y0 - PAD.top, width: Math.round(w), height: Math.round(h) }}
    />
  );
}

function ColorBar() {
  const ref = useRef<HTMLCanvasElement | null>(null);
  useEffect(() => {
    const sets: any[] = [];
    const EDGE = "#666";
    BAR_LEVELS.slice(0, -1).forEach((lo, i) => {
      sets.push({
        data: [{ x: 0, y: lo }, { x: 1, y: lo }, { x: 1, y: lo + 1 }, { x: 0, y: lo + 1 }, { x: 0, y: lo }],
        showLine: true, fill: "shape", pointRadius: 0, borderWidth: 0.8, borderColor: BANDS[i + 1], backgroundColor: BANDS[i + 1],
      });
    });
    sets.push({
      data: [{ x: 0, y: -3 }, { x: 0.5, y: -3.33 }, { x: 1, y: -3 }, { x: 0, y: -3 }],
      showLine: true, fill: "shape", pointRadius: 0, borderWidth: 0.8, borderColor: BANDS[0], backgroundColor: BANDS[0],
    });
    sets.push({
      data: [{ x: 0, y: 4 }, { x: 0.5, y: 4.35 }, { x: 1, y: 4 }, { x: 0, y: 4 }],
      showLine: true, fill: "shape", pointRadius: 0, borderWidth: 0.8, borderColor: BANDS[8], backgroundColor: BANDS[8],
    });
    sets.push({
      data: [{ x: 0, y: -3 }, { x: 0, y: 4 }, { x: 0.5, y: 4.35 }, { x: 1, y: 4 }, { x: 1, y: -3 }, { x: 0.5, y: -3.33 }, { x: 0, y: -3 }],
      showLine: true, fill: false, pointRadius: 0, borderWidth: 1.2, borderColor: EDGE,
    });
    const chart = new Chart(ref.current as HTMLCanvasElement, {
      type: "scatter",
      data: { datasets: sets },
      options: {
        animation: false,
        responsive: false,
        layout: { padding: { left: 11, right: 0, top: 5, bottom: 5 } },
        plugins: { legend: { display: false }, tooltip: { enabled: false } },
        scales: {
          x: { type: "linear", display: false, min: 0, max: 1 },
          y: {
            type: "linear", position: "right", min: -3.35, max: 4.35,
            grid: { display: false, drawTicks: false }, border: { display: false },
            afterBuildTicks: (s: any) => { s.ticks = BAR_LEVELS.map((value) => ({ value })); },
            afterFit: (s: any) => { s.width = 25; s.paddingTop = 0; s.paddingBottom = 0; },
            ticks: { autoSkip: false, padding: 0, crossAlign: "far", color: "#111", font: { family: FONT, size: 22 } },
          },
        },
      },
    } as any);
    return () => chart.destroy();
  }, []);
  return <canvas ref={ref} width={53} height={316} style={{ position: "absolute", left: 970, top: 50, width: 53, height: 316 }} />;
}

function Text({ x, y, size, children, rotate }: { x: number; y: number; size: number; children: any; rotate?: number }) {
  return (
    <div
      style={{
        position: "absolute", left: x, top: y, fontSize: size, fontFamily: FONT, color: "#111", whiteSpace: "nowrap", lineHeight: 1,
        transform: `translate(-50%,-50%)${rotate ? ` rotate(${rotate}deg)` : ""}`,
      }}
    >
      {children}
    </div>
  );
}

const TITLE_X = [220, 462, 745];
const TITLE_Y = [[20], [12, 35], [12, 35]];
const ROW_NAME_AT = [[897, 192], [890, 462], [893, 732]];
const ROW_NAME_SIZE = [25.5, 23, 25.5];
const DELTA_X_AT = [[209, 918, 232, 908], [479, 918, 501, 908], [737, 918, 760, 908]];
const DELTA_Y_AT = [[29.5, 176, 50, 164], [20, 460, 40.5, 448], [25, 736, 45.5, 724]];

export default function App() {
  return (
    <div style={{ position: "absolute", left: 0, top: 0, width: 1050, height: 939, overflow: "hidden", background: "#fff" }}>
      {PANELS.map((r, ri) => r.map((_c, ci) => <Panel key={`${ri}-${ci}`} row={ri} col={ci} />))}
      <ColorBar />
      {TITLES.map((lines, c) => lines.map((t, i) => <Text key={t + c} x={TITLE_X[c]} y={TITLE_Y[c][i]} size={22}>{t}</Text>))}
      {ROW_NAMES.map((t, i) => <Text key={t} x={ROW_NAME_AT[i][0]} y={ROW_NAME_AT[i][1]} size={ROW_NAME_SIZE[i]} rotate={90}>{t}</Text>)}
      {BAR_NAME.map((t, i) => <Text key={t} x={1001} y={381 + i * 29} size={21}>{t}</Text>)}
      {DELTA_X_AT.map((p, i) => (
        <React.Fragment key={i}>
          <Text x={p[0]} y={p[1] + 4} size={32}>Δ</Text>
          <Text x={p[2]} y={p[3]} size={22}>c-a</Text>
        </React.Fragment>
      ))}
      {DELTA_Y_AT.map((p, i) => (
        <React.Fragment key={i}>
          <Text x={p[0]} y={p[1]} size={34}>Δ</Text>
          <Text x={p[2]} y={p[3]} size={20}>45°</Text>
        </React.Fragment>
      ))}
    </div>
  );
}
